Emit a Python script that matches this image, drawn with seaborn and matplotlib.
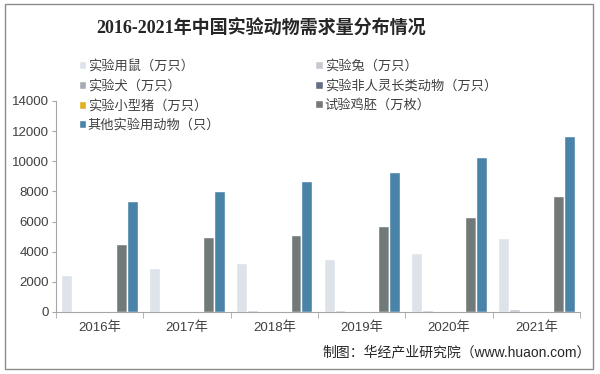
import pandas as pd
import matplotlib.pyplot as plt
import seaborn as sns
from matplotlib.patches import Rectangle

# ==========================================
# DATA
# ==========================================

years = ['2016年', '2017年', '2018年', '2019年', '2020年', '2021年']

series_names = [
    '实验用鼠（万只）',
    '实验兔（万只）',
    '实验犬（万只）',
    '实验非人灵长类动物（万只）',
    '实验小型猪（万只）',
    '试验鸡胚（万枚）',
    '其他实验用动物（只）'
]

mice = [2480, 2900, 3230, 3520, 3900, 4900]
rabbit = [70, 90, 130, 140, 150, 220]
dog = [8, 8, 9, 9, 10, 10]
primate = [6, 6, 7, 7, 8, 8]
pig = [2, 2, 2, 3, 3, 3]
embryo = [4520, 4960, 5110, 5730, 6330, 7700]
other = [7330, 8030, 8680, 9300, 10300, 11680]

colors = ['#dce2ec', '#c3c9d3', '#a3abb8', '#5d6b8b',
          '#ffc000', '#717b7a', '#3a87b8']

rows = []
for name, vals in zip(series_names,
                      [mice, rabbit, dog, primate, pig, embryo, other]):
    for y, v in zip(years, vals):
        rows.append({'年份': y, '类别': name, '数量': v})
df = pd.DataFrame(rows)

# ==========================================
# PLOT
# ==========================================

sns.set_style("white")
plt.rcParams['font.family'] = ['Liberation Sans', 'Noto Sans CJK SC']

fig = plt.figure(figsize=(6, 3.74), dpi=100)
ax = fig.add_axes([0.093, 0.166, 0.874, 0.564])

sns.barplot(
    data=df,
    x='年份',
    y='数量',
    hue='类别',
    palette=colors,
    width=0.87,
    ax=ax,
    legend=True
)

ax.set_ylim(0, 14000)
ax.set_yticks(range(0, 14001, 2000))
ax.set_xlim(-0.5, 5.5)
ax.set_xlabel('')
ax.set_ylabel('')

for s in ['top', 'right']:
    ax.spines[s].set_visible(False)
for s in ['left', 'bottom']:
    ax.spines[s].set_color('#a6a6a6')
    ax.spines[s].set_linewidth(0.8)

ax.tick_params(axis='y', length=3, color='#a6a6a6',
               labelsize=9.5, labelcolor='#404040', pad=2, left=True)
ax.tick_params(axis='x', which='major', length=0,
               labelsize=9.5, labelcolor='#404040', pad=7)
ax.set_xticks([i - 0.5 for i in range(7)], minor=True)
ax.tick_params(axis='x', which='minor', length=4, color='#a6a6a6',
               bottom=True)

# legend: two columns, row order like the original
handles, labels = ax.get_legend_handles_labels()
ax.get_legend().remove()
order = [0, 2, 4, 6, 1, 3, 5]
leg = fig.legend(
    [handles[i] for i in order],
    [labels[i] for i in order],
    ncol=2,
    loc='upper left',
    bbox_to_anchor=(0.12, 0.858),
    frameon=False,
    fontsize=9.5,
    handlelength=0.55,
    handleheight=0.55,
    handletextpad=0.15,
    columnspacing=7.2,
    labelspacing=0.52,
    borderpad=0
)
for t in leg.get_texts():
    t.set_color('#404040')

fig.text(0.435, 0.922, '2016-2021年中国实验动物需求量分布情况',
         ha='center', va='center', fontsize=13, fontweight='bold',
         color='#262626',
         family=['Liberation Serif', 'Noto Sans CJK SC'])

fig.text(0.985, 0.058, '制图：华经产业研究院（www.huaon.com）',
         ha='right', va='center', fontsize=10, color='#262626')

# outer frame
fig.patches.append(Rectangle((0.008, 0.013), 0.98, 0.975,
                             transform=fig.transFigure, fill=False,
                             edgecolor='#8c8c8c', linewidth=1))

plt.savefig("out.png", dpi=100)
